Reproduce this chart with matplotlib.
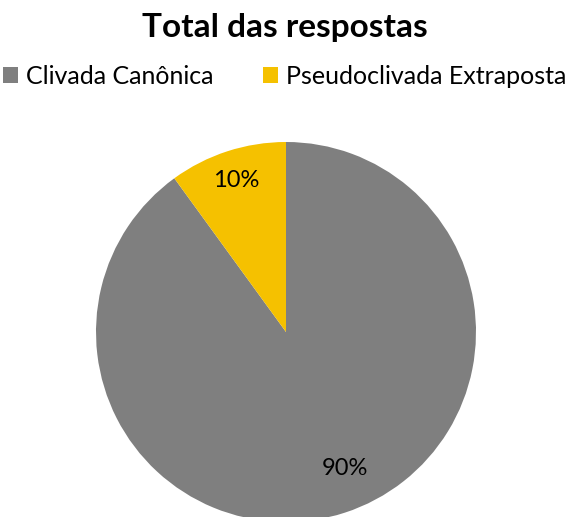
import matplotlib
matplotlib.use("Agg")
import matplotlib.pyplot as plt

plt.rcParams['font.family'] = ['Lato', 'DejaVu Sans']

# data
labels = ['Clivada Canônica', 'Pseudoclivada Extraposta']
values = [90, 10]
colors = ['#7f7f7f', '#f5c100']

W, H = 569, 517
fig = plt.figure(figsize=(W / 100, H / 100), dpi=100)

# pie centre ~ (286, 332) px, radius ~190 px
cx, cy, r = 286, 332, 190
ax = fig.add_axes([(cx - r) / W, (H - cy - r) / H, 2 * r / W, 2 * r / H])
wedges, texts, autotexts = ax.pie(values, colors=colors, startangle=90,
                                  counterclock=False, radius=1,
                                  autopct='%1.0f%%', pctdistance=0.84,
                                  textprops={'fontsize': 17, 'color': 'black'})
# excel puts the big slice's label a bit closer in
autotexts[0].set_position((0.31, -0.72))
ax.set_xlim(-1, 1)
ax.set_ylim(-1, 1)
ax.set_aspect('equal')
ax.axis('off')

fig.text(0.5, 1 - 28 / H, 'Total das respostas', ha='center', va='center',
         fontsize=24, fontweight='bold')
fig.legend(wedges, labels, loc='center', bbox_to_anchor=(0.5, 1 - 76 / H),
           ncol=2, frameon=False, fontsize=18, handlelength=0.6,
           handleheight=0.6, handletextpad=0.3, columnspacing=2.0)

fig.savefig('out.png', dpi=100)
